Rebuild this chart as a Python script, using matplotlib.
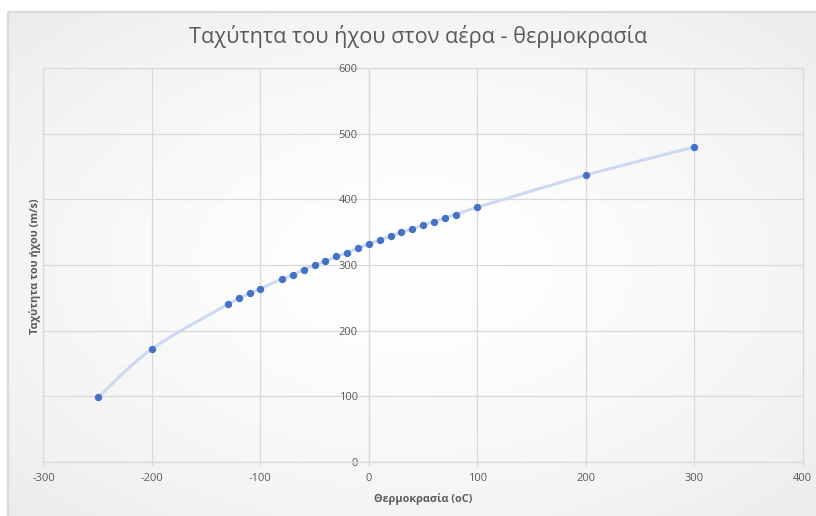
import numpy as np
import matplotlib
matplotlib.use("Agg")
import matplotlib.pyplot as plt
from matplotlib.patches import Rectangle

plt.rcParams['font.family'] = ['Open Sans', 'DejaVu Sans']

# Temperature (°C) and speed of sound in air (m/s)
temperature = [-250, -200, -130, -120, -110, -100, -80, -70, -60, -50, -40, -30,
               -20, -10, 0, 10, 20, 30, 40, 50, 60, 70, 80, 100, 200, 300]
speed = [98, 172, 240, 249, 257, 264, 279, 285, 293, 300, 306, 313,
         319, 326, 332, 338, 344, 350, 355, 361, 366, 372, 377, 388, 437, 480]

x_ticks = [-300, -200, -100, 0, 100, 200, 300, 400]
y_ticks = [0, 100, 200, 300, 400, 500, 600]

title = "Ταχύτητα του ήχου στον αέρα - θερμοκρασία"
x_label = "Θερμοκρασία (oC)"
y_label = "Ταχύτητα του ήχου (m/s)"

TEXT = "#595959"
GRID = "#d9d9d9"

W, H = 816, 516
fig = plt.figure(figsize=(W / 100, H / 100), dpi=100, facecolor="white")


def fx(px):
    return px / W


def fy(py):
    return 1 - py / H


# Chart area background: soft radial gradient, white centre, light grey rim
bg = fig.add_axes([0, 0, 1, 1], zorder=0)
bg.set_xlim(0, W)
bg.set_ylim(H, 0)
bg.axis("off")
gx, gy = np.meshgrid(np.linspace(0, 1, 400), np.linspace(0, 1, 260))
r = np.sqrt(((gx - 0.5) / 0.5) ** 2 + ((gy - 0.5) / 0.5) ** 2) / np.sqrt(2)
shade = 1.0 - 0.075 * np.clip(r, 0, 1) ** 1.6
img = np.dstack([shade, shade, shade])
bg.imshow(img, extent=(8, W + 2, H + 2, 12), aspect="auto", interpolation="bilinear")
bg.add_patch(Rectangle((8, 12), W, H, fill=False, edgecolor=GRID, lw=1.6))

# Plot area
ax = fig.add_axes([fx(43.5), fy(461.7), fx(802.7) - fx(43.5), fy(68.3) - fy(461.7)], zorder=1)
ax.patch.set_alpha(0)
ax.set_xlim(-300, 400)
ax.set_ylim(0, 600)
ax.set_xticks(x_ticks)
ax.set_yticks(y_ticks)
ax.grid(True, color=GRID, lw=0.9, zorder=0)
for v in (-300, 400):
    ax.axvline(v, color=GRID, lw=0.9, clip_on=False, zorder=0)
ax.axhline(600, color=GRID, lw=0.9, clip_on=False, zorder=0)

for s in ("top", "right"):
    ax.spines[s].set_visible(False)
ax.spines["left"].set_position(("data", 0))
ax.spines["left"].set_color(GRID)
ax.spines["bottom"].set_color(GRID)
ax.spines["left"].set_linewidth(0.9)
ax.spines["bottom"].set_linewidth(0.9)
ax.tick_params(axis="y", length=0, pad=8, labelsize=8, labelcolor=TEXT)
ax.tick_params(axis="x", length=3, width=0.9, color=GRID, pad=5, labelsize=8, labelcolor=TEXT)
ax.set_xticklabels([str(v) for v in x_ticks])
ax.set_yticklabels([str(v) for v in y_ticks])
for lab in ax.get_yticklabels():
    lab.set_zorder(3)

# Smoothed connecting line (Catmull-Rom style Bezier through the points)
px = np.array(temperature, float)
py = np.array(speed, float)
P = np.column_stack([px, py])
ext = np.vstack([P[0], P, P[-1]])
curve = []
t = np.linspace(0, 1, 30)[:, None]
for i in range(len(P) - 1):
    p0, p1, p2, p3 = ext[i], ext[i + 1], ext[i + 2], ext[i + 3]
    c1 = p1 + (p2 - p0) / 6
    c2 = p2 - (p3 - p1) / 6
    seg = ((1 - t) ** 3) * p1 + 3 * ((1 - t) ** 2) * t * c1 + 3 * (1 - t) * t ** 2 * c2 + t ** 3 * p2
    curve.append(seg)
curve = np.vstack(curve)
ax.plot(curve[:, 0], curve[:, 1], color="#cdd9f1", lw=2.2, solid_capstyle="round", zorder=2)
ax.plot(temperature, speed, "o", color="#4472c4", ms=4.3, mec="#4472c4", zorder=3)

fig.text(fx(418), fy(37), title, ha="center", va="center", fontsize=15.6, color=TEXT)
fig.text(fx(423), fy(499), x_label, ha="center", va="center", fontsize=7.8,
         fontweight="bold", color=TEXT)
fig.text(fx(35), fy(266), y_label, ha="center", va="center", rotation=90, fontsize=7.8,
         fontweight="bold", color=TEXT)

fig.savefig("out.png", dpi=100, facecolor="white")
